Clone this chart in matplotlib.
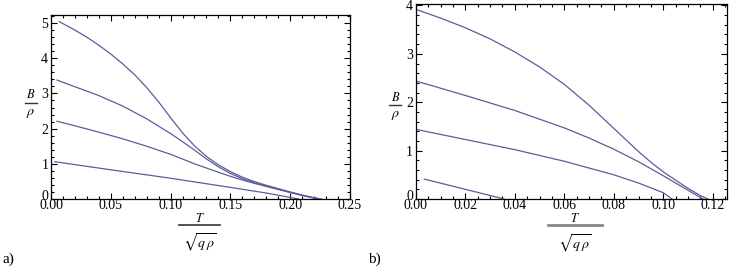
import matplotlib
matplotlib.use('Agg')
import matplotlib.pyplot as plt
from matplotlib.ticker import MultipleLocator

plt.rcParams['font.family'] = ['Liberation Serif', 'DejaVu Serif']
plt.rcParams['mathtext.fontset'] = 'stix'

# panel a) curves
a_T = [
    [0.007, 0.02, 0.03, 0.04, 0.05, 0.06, 0.07, 0.08, 0.09, 0.10, 0.11, 0.12, 0.13, 0.14, 0.15,
     0.16, 0.17, 0.18, 0.19, 0.20, 0.21, 0.22, 0.226],
    [0.005, 0.02, 0.04, 0.06, 0.08, 0.10, 0.11, 0.12, 0.13, 0.14, 0.15,
     0.16, 0.17, 0.18, 0.19, 0.20, 0.21, 0.22, 0.226],
    [0.005, 0.02, 0.04, 0.06, 0.08, 0.10, 0.12, 0.14, 0.15,
     0.16, 0.17, 0.18, 0.19, 0.20, 0.21, 0.22, 0.225],
    [0.003, 0.05, 0.10, 0.15, 0.18, 0.207],
]
a_B = [
    [5.04, 4.80, 4.60, 4.37, 4.12, 3.84, 3.53, 3.17, 2.76, 2.31, 1.88, 1.51, 1.21, 0.97, 0.78,
     0.62, 0.495, 0.39, 0.295, 0.20, 0.115, 0.035, 0.0],
    [3.38, 3.19, 2.94, 2.64, 2.28, 1.86, 1.63, 1.39, 1.14, 0.915, 0.725,
     0.58, 0.463, 0.368, 0.278, 0.19, 0.105, 0.03, 0.0],
    [2.21, 2.08, 1.90, 1.71, 1.50, 1.27, 1.00, 0.76, 0.645,
     0.54, 0.445, 0.358, 0.272, 0.186, 0.10, 0.025, 0.0],
    [1.06, 0.83, 0.59, 0.33, 0.17, 0.0],
]

# panel b) curves
b_T = [
    [0.0, 0.01, 0.02, 0.03, 0.04, 0.05, 0.06, 0.07, 0.075, 0.08, 0.085, 0.09, 0.095, 0.10, 0.105,
     0.11, 0.115, 0.118],
    [0.0, 0.02, 0.04, 0.06, 0.07, 0.08, 0.09, 0.10, 0.11, 0.116],
    [0.0, 0.02, 0.04, 0.06, 0.08, 0.09, 0.10, 0.1035],
    [0.0035, 0.02, 0.0357],
]
b_B = [
    [3.92, 3.74, 3.54, 3.31, 3.04, 2.73, 2.37, 1.94, 1.70, 1.46, 1.22, 0.98, 0.76, 0.56, 0.39,
     0.22, 0.07, 0.0],
    [2.44, 2.14, 1.83, 1.47, 1.26, 1.03, 0.77, 0.48, 0.18, 0.0],
    [1.44, 1.23, 1.02, 0.78, 0.50, 0.33, 0.13, 0.0],
    [0.41, 0.20, 0.0],
]

a_yticks = [0, 1, 2, 3, 4, 5]
b_yticks = [0, 1, 2, 3, 4]

col = '#5c5c9c'
lab = '#333333'

fig = plt.figure(figsize=(7.32, 2.68), dpi=100)
ax1 = fig.add_axes([0.0697, 0.2575, 0.4083, 0.6865])
ax2 = fig.add_axes([0.568, 0.2575, 0.425, 0.7275])

for t, b in zip(a_T, a_B):
    ax1.plot(t, b, color=col, lw=0.9)
for t, b in zip(b_T, b_B):
    ax2.plot(t, b, color=col, lw=0.9)

ax1.set_xlim(0, 0.25)
ax1.set_ylim(0, 5.23)
ax1.xaxis.set_minor_locator(MultipleLocator(0.01))
ax1.set_xticks([0, 0.05, 0.10, 0.15, 0.20, 0.25])
ax1.set_xticklabels(['0.00', '0.05', '0.10', '0.15', '0.20', '0.25'])

ax2.set_xlim(0, 0.1257)
ax2.set_ylim(0, 4.03)
ax2.xaxis.set_minor_locator(MultipleLocator(0.005))
ax2.set_xticks([0, 0.02, 0.04, 0.06, 0.08, 0.10, 0.12])
ax2.set_xticklabels(['0.00', '0.02', '0.04', '0.06', '0.08', '0.10', '0.12'])

for ax, yt in ((ax1, a_yticks), (ax2, b_yticks)):
    ax.set_yticks(yt)
    # the "0" is drawn separately, a bit higher, so it sits above "0.00"
    ax.set_yticklabels([''] + [str(v) for v in yt[1:]])
    ax.annotate('0', xy=(0, 0), xycoords='axes fraction', xytext=(-2, 2),
                textcoords='offset points', ha='right', va='center', fontsize=10)
    ax.yaxis.set_minor_locator(MultipleLocator(0.2))
    ax.tick_params(which='both', direction='in', top=True, right=True,
                   labelsize=10, width=0.8)
    ax.tick_params(axis='x', pad=0)
    ax.tick_params(axis='y', pad=2)
    ax.tick_params(which='major', length=4)
    ax.tick_params(which='minor', length=2)
    for s in ax.spines.values():
        s.set_linewidth(0.9)


def frac_label(x, y_num, y_bar, y_den, half, num, den, sz_num, sz_den, bar_w, bar_c):
    fig.text(x, y_num, num, ha='center', va='center', fontsize=sz_num)
    fig.add_artist(plt.Line2D([x - half, x + half], [y_bar, y_bar], color=bar_c, lw=bar_w))
    fig.text(x, y_den, den, ha='center', va='center', fontsize=sz_den)


# y labels  B / rho
frac_label(0.042, 0.646, 0.616, 0.575, 0.008, r'$\mathbf{\mathit{B}}$', r'$\mathit{\rho}$',
           9, 10, 1.0, lab)
frac_label(0.540, 0.638, 0.608, 0.568, 0.008, r'$\mathbf{\mathit{B}}$', r'$\mathit{\rho}$',
           9, 10, 1.0, lab)
# x labels  T / sqrt(q rho)
frac_label(0.273, 0.186, 0.160, 0.092, 0.028, r'$\mathbf{\mathit{T}}$', r'$\sqrt{q\,\rho}$',
           9, 10, 1.2, lab)
frac_label(0.786, 0.184, 0.160, 0.090, 0.037, r'$\mathbf{\mathit{T}}$', r'$\sqrt{q\,\rho}$',
           9, 10, 2.0, '#888888')

fig.text(0.004, 0.02, 'a)', fontsize=11)
fig.text(0.503, 0.02, 'b)', fontsize=11)

fig.savefig('out.png', dpi=100)
